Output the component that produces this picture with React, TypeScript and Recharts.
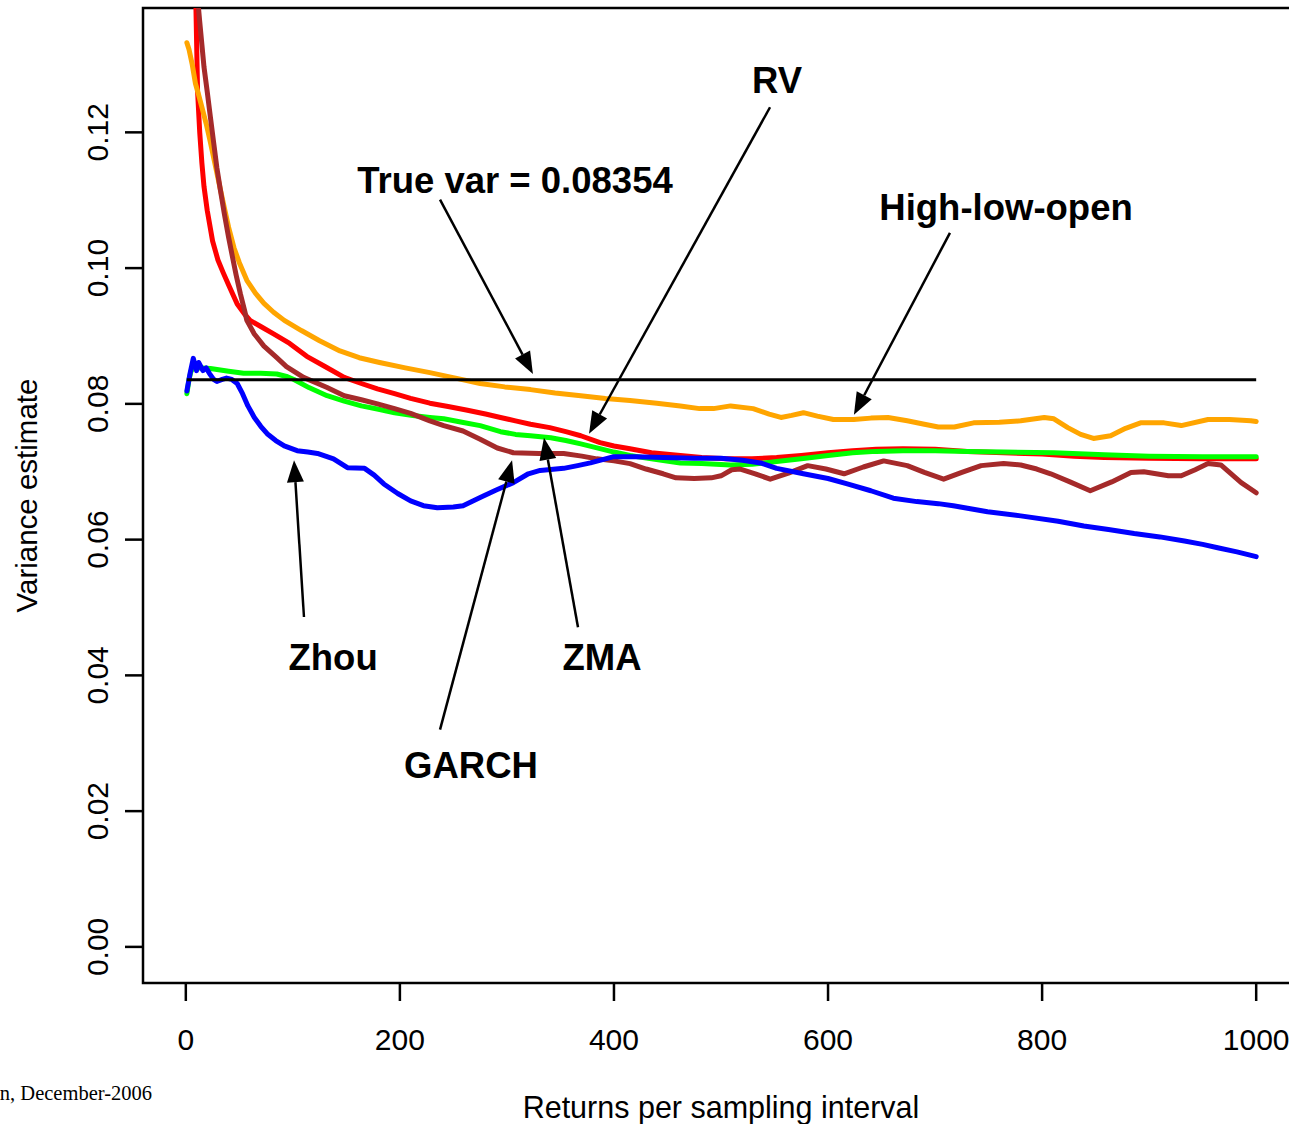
import React from "react";
import {
  LineChart,
  Line,
  XAxis,
  YAxis,
  ReferenceArea,
  ReferenceLine,
  ReferenceDot,
} from "recharts";

type Pt = [number, number];

const FONT = "'Liberation Sans', Arial, Helvetica, sans-serif";

const xTicks = [0, 200, 400, 600, 800, 1000];
const yTicks = [0, 0.02, 0.04, 0.06, 0.08, 0.1, 0.12];

const trueVar = 0.08354;
const trueVarPts: Pt[] = [[1, trueVar], [1000, trueVar]];

// realised variance (red)
const rvPts: Pt[] = [
  [1, 0.3], [4, 0.21], [7, 0.165], [9, 0.142], [11, 0.126], [13, 0.12], [15, 0.1155],
  [17, 0.112], [20, 0.1085], [25, 0.104], [30, 0.1012], [35, 0.0993], [40, 0.0975],
  [48, 0.0947], [55, 0.0932], [60, 0.0923], [70, 0.0914], [82, 0.0903], [97, 0.0889],
  [113, 0.087], [130, 0.0855], [148, 0.0839], [164, 0.083], [179, 0.0822], [195, 0.0815],
  [210, 0.0808], [228, 0.0801], [245, 0.0796], [262, 0.0791], [280, 0.0785], [294, 0.078],
  [308, 0.0775], [322, 0.077], [340, 0.0765], [355, 0.0759], [369, 0.0753], [387, 0.0743],
  [400, 0.0738], [415, 0.0734], [435, 0.0728], [462, 0.0724], [482, 0.0721], [505, 0.0719],
  [529, 0.0719], [552, 0.0721], [575, 0.0724], [600, 0.0728], [623, 0.0731], [645, 0.0733],
  [670, 0.0734], [700, 0.0733], [730, 0.073], [764, 0.0728], [800, 0.0726], [830, 0.0723],
  [858, 0.0721], [900, 0.072], [950, 0.0719], [1000, 0.0719],
];

// ZMA (green)
const zmaPts: Pt[] = [
  [1, 0.0815], [3, 0.0836], [5, 0.0849], [8, 0.0853], [15, 0.0853], [23, 0.0852],
  [40, 0.0848], [54, 0.0845], [70, 0.0845], [85, 0.0844], [95, 0.084], [101, 0.0836],
  [115, 0.0824], [132, 0.0812], [148, 0.0804], [164, 0.0797], [180, 0.0792], [195, 0.0787],
  [212, 0.0783], [228, 0.078], [241, 0.0778], [258, 0.0773], [275, 0.0768], [294, 0.0759],
  [308, 0.0755], [322, 0.0753], [341, 0.075], [355, 0.0746], [369, 0.0741], [387, 0.0734],
  [400, 0.0729], [415, 0.0724], [435, 0.0719], [462, 0.0713], [482, 0.0712], [509, 0.071],
  [529, 0.0711], [552, 0.0715], [575, 0.0719], [600, 0.0724], [623, 0.0728], [645, 0.073],
  [670, 0.0731], [700, 0.0731], [730, 0.073], [764, 0.0729], [811, 0.0728], [858, 0.0725],
  [900, 0.0723], [950, 0.0722], [1000, 0.0722],
];

// high-low-open (orange)
const hloPts: Pt[] = [
  [1, 0.1332], [3, 0.1322], [6, 0.13], [9, 0.1272], [12, 0.1255], [15, 0.1237], [19, 0.1213],
  [23, 0.1185], [28, 0.1148], [32, 0.1118], [36, 0.1089], [40, 0.106], [45, 0.103],
  [50, 0.1008], [57, 0.0982], [65, 0.0963], [73, 0.0948], [82, 0.0935], [92, 0.0923],
  [108, 0.0908], [125, 0.0893], [144, 0.0878], [162, 0.0868], [181, 0.0861], [205, 0.0853],
  [228, 0.0846], [252, 0.0838], [275, 0.083], [298, 0.0825], [322, 0.0821], [345, 0.0816],
  [369, 0.0812], [392, 0.0808], [415, 0.0805], [440, 0.0801], [462, 0.0797], [480, 0.0793],
  [493, 0.0793], [509, 0.0797], [530, 0.0793], [545, 0.0785], [556, 0.078], [566, 0.0783],
  [577, 0.0787], [590, 0.0782], [605, 0.0777], [624, 0.0777], [640, 0.0779], [656, 0.078],
  [674, 0.0775], [690, 0.077], [703, 0.0766], [718, 0.0766], [736, 0.0772], [760, 0.0773],
  [780, 0.0775], [802, 0.078], [811, 0.0778], [824, 0.0765], [836, 0.0755], [848, 0.0749],
  [864, 0.0753], [878, 0.0764], [892, 0.0772], [914, 0.0772], [930, 0.0768], [955, 0.0777],
  [975, 0.0777], [995, 0.0775], [1000, 0.0774],
];

// GARCH (brown)
const garchPts: Pt[] = [
  [1, 0.3], [6, 0.165], [10, 0.1415], [13, 0.1363], [17, 0.1296], [20, 0.126], [23, 0.1222],
  [26, 0.1185], [29, 0.1148], [32, 0.1118], [36, 0.108], [40, 0.1045], [43, 0.1021],
  [47, 0.099], [51, 0.0962], [55, 0.0937], [57, 0.0923], [64, 0.0903], [73, 0.0885],
  [85, 0.0868], [94, 0.0855], [110, 0.0839], [132, 0.0824], [148, 0.0812], [164, 0.0806],
  [179, 0.08], [195, 0.0793], [210, 0.0786], [228, 0.0775], [241, 0.0768], [259, 0.076],
  [275, 0.0748], [291, 0.0735], [306, 0.0728], [330, 0.0727], [353, 0.0727], [370, 0.0723],
  [384, 0.0719], [400, 0.0716], [415, 0.0712], [430, 0.0704], [446, 0.0697], [458, 0.0691],
  [475, 0.069], [491, 0.0691], [500, 0.0694], [510, 0.0703], [518, 0.0704], [532, 0.0697],
  [546, 0.0689], [563, 0.0698], [581, 0.0709], [598, 0.0704], [615, 0.0697], [633, 0.0707],
  [652, 0.0716], [674, 0.0709], [690, 0.0699], [708, 0.0689], [725, 0.0699], [743, 0.0709],
  [764, 0.0712], [780, 0.071], [795, 0.0704], [808, 0.0697], [826, 0.0685], [845, 0.0672],
  [865, 0.0685], [883, 0.0699], [895, 0.07], [918, 0.0694], [930, 0.0694], [943, 0.0703],
  [955, 0.0712], [967, 0.071], [986, 0.0684], [1000, 0.0669],
];

// Zhou (blue)
const zhouPts: Pt[] = [
  [1, 0.0819], [4, 0.0845], [7, 0.0867], [10, 0.0849], [12, 0.0861], [16, 0.0849],
  [19, 0.0853], [22, 0.0845], [26, 0.0836], [29, 0.0833], [34, 0.0836], [38, 0.0838],
  [43, 0.0836], [48, 0.083], [53, 0.0815], [58, 0.0797], [64, 0.078], [70, 0.0767],
  [76, 0.0756], [84, 0.0746], [92, 0.0738], [104, 0.0731], [114, 0.0729], [123, 0.0727],
  [138, 0.0719], [151, 0.0706], [167, 0.0705], [176, 0.0695], [185, 0.0682], [198, 0.0668],
  [210, 0.0657], [222, 0.065], [235, 0.0647], [250, 0.0648], [259, 0.065], [275, 0.0662],
  [290, 0.0673], [306, 0.0684], [320, 0.0697], [331, 0.0702], [353, 0.0705], [366, 0.0709],
  [378, 0.0713], [399, 0.0722], [420, 0.0722], [446, 0.0721], [475, 0.072], [500, 0.072],
  [520, 0.0717], [537, 0.0713], [552, 0.0705], [577, 0.0697], [600, 0.069], [618, 0.0682],
  [640, 0.0672], [661, 0.0661], [683, 0.0656], [703, 0.0653], [717, 0.065], [749, 0.0641],
  [780, 0.0635], [815, 0.0627], [839, 0.062], [862, 0.0615], [886, 0.0609], [910, 0.0604],
  [933, 0.0598], [950, 0.0593], [964, 0.0588], [982, 0.0582], [1000, 0.0575],
];

const series = [
  { name: "RV", color: "#ff0000", pts: rvPts },
  { name: "ZMA", color: "#00ff00", pts: zmaPts },
  { name: "High-low-open", color: "#ffa500", pts: hloPts },
  { name: "GARCH", color: "#a52a2a", pts: garchPts },
  { name: "Zhou", color: "#0000ff", pts: zhouPts },
];

// annotation text (anchor = baseline centre) and arrow from -> to, in data units
const notes = [
  { text: "True var = 0.08354", at: [307.5, 0.1111], from: [237.5, 0.1101], to: [324.3, 0.0844] },
  { text: "RV", at: [552.3, 0.1258], from: [545.8, 0.1237], to: [376.7, 0.0756] },
  { text: "High-low-open", at: [766.3, 0.1071], from: [713.9, 0.1052], to: [624.2, 0.0784] },
  { text: "Zhou", at: [137.6, 0.0408], from: [110.4, 0.0486], to: [101.1, 0.0717] },
  { text: "ZMA", at: [388.8, 0.0408], from: [366.4, 0.0471], to: [334.6, 0.075] },
  { text: "GARCH", at: [266.4, 0.0249], from: [237.5, 0.032], to: [304.8, 0.0717] },
];

const toRows = (pts: Pt[]) => pts.map(([x, y]) => ({ x, y }));

const Arrow = (p: any) => {
  const { x1, y1, x2, y2 } = p;
  const dx = x2 - x1;
  const dy = y2 - y1;
  const len = Math.hypot(dx, dy) || 1;
  const ux = dx / len;
  const uy = dy / len;
  const hl = 22;
  const hw = 8.5;
  const bx = x2 - ux * hl;
  const by = y2 - uy * hl;
  const head = `${x2},${y2} ${bx - uy * hw},${by + ux * hw} ${bx + uy * hw},${by - ux * hw}`;
  return (
    <g>
      <line x1={x1} y1={y1} x2={bx} y2={by} stroke="#000" strokeWidth={2.5} />
      <polygon points={head} fill="#000" />
    </g>
  );
};

const YTick = (p: any) => (
  <text
    x={p.x}
    y={p.y}
    transform={`rotate(-90 ${p.x} ${p.y})`}
    textAnchor="middle"
    fontSize={30}
    fontFamily={FONT}
    fill="#000"
  >
    {Number(p.payload.value).toFixed(2)}
  </text>
);

export default function App() {
  return (
    <div style={{ position: "absolute", left: 0, top: 0, width: 1289, height: 1124, overflow: "hidden", background: "#fff" }}>
      <LineChart width={1299} height={1124} margin={{ top: 8, right: 0, bottom: 0, left: 0 }}>
        <XAxis
          type="number"
          dataKey="x"
          domain={[-40, 1040]}
          allowDataOverflow
          ticks={xTicks}
          interval={0}
          height={141}
          tickSize={18}
          tickMargin={28}
          axisLine={false}
          tickLine={{ stroke: "#000", strokeWidth: 2.5 }}
          tick={{ fontSize: 30, fill: "#000", fontFamily: FONT }}
          label={{
            content: (lp: any) => {
              const vb = lp.viewBox || { x: 143, y: 983, width: 1156 };
              return (
                <text x={vb.x + vb.width / 2} y={vb.y + 135} textAnchor="middle" fontSize={30.5} fontFamily={FONT} fill="#000">
                  Returns per sampling interval
                </text>
              );
            },
          }}
        />
        <YAxis
          type="number"
          domain={[-0.00532, 0.13832]}
          allowDataOverflow
          ticks={yTicks}
          interval={0}
          width={143}
          tickSize={18}
          tickMargin={17}
          axisLine={false}
          tickLine={{ stroke: "#000", strokeWidth: 2.5 }}
          tick={<YTick />}
          label={{
            content: (lp: any) => {
              const vb = lp.viewBox || { x: 0, y: 8, height: 975 };
              const cx = vb.x + 37;
              const cy = vb.y + vb.height / 2;
              return (
                <text x={cx} y={cy} transform={`rotate(-90 ${cx} ${cy})`} textAnchor="middle" fontSize={29.5} fontFamily={FONT} fill="#000">
                  Variance estimate
                </text>
              );
            },
          }}
        />
        <ReferenceArea x1={-40} x2={1040} y1={-0.00532} y2={0.13832} fill="none" stroke="#000" strokeWidth={2.5} />
        {series.map((s) => (
          <Line
            key={s.name}
            data={toRows(s.pts)}
            dataKey="y"
            type="linear"
            stroke={s.color}
            strokeWidth={5}
            strokeLinecap="round"
            strokeLinejoin="round"
            dot={false}
            activeDot={false}
            isAnimationActive={false}
          />
        ))}
        <Line
          data={toRows(trueVarPts)}
          dataKey="y"
          type="linear"
          stroke="#000"
          strokeWidth={3}
          dot={false}
          activeDot={false}
          isAnimationActive={false}
        />
        {notes.map((n) => (
          <ReferenceLine
            key={`a-${n.text}`}
            segment={[{ x: n.from[0], y: n.from[1] }, { x: n.to[0], y: n.to[1] }]}
            shape={Arrow}
          />
        ))}
        {notes.map((n) => (
          <ReferenceDot
            key={`t-${n.text}`}
            x={n.at[0]}
            y={n.at[1]}
            r={0}
            shape={(p: any) => (
              <text x={p.cx} y={p.cy} textAnchor="middle" fontSize={36.5} fontWeight="bold" fontFamily={FONT} fill="#000">
                {n.text}
              </text>
            )}
          />
        ))}
      </LineChart>
      <div
        style={{
          position: "absolute",
          right: 1289 - 152,
          top: 1082,
          fontFamily: "'Liberation Serif', 'Times New Roman', serif",
          fontSize: 20.5,
          whiteSpace: "nowrap",
          color: "#000",
        }}
      >
        n, December-2006
      </div>
    </div>
  );
}
